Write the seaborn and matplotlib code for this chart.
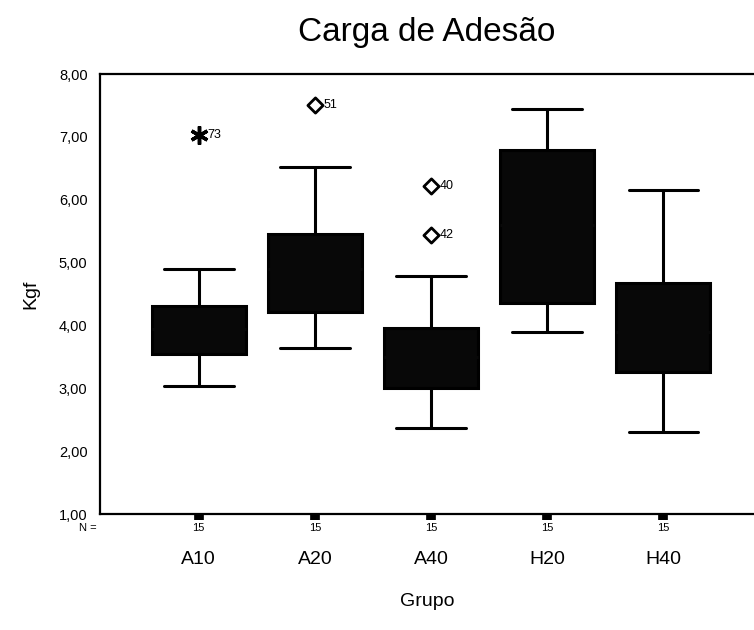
"""Carga de Adesão boxplot (SPSS style)."""
import numpy as np
import pandas as pd
import seaborn as sns
import matplotlib.pyplot as plt
from matplotlib.ticker import FuncFormatter
import matplotlib.transforms as mtransforms

# estimated raw observations, 15 per group (read off the box/whisker positions)
groups = ["A10", "A20", "A40", "H20", "H40"]
a10 = [3.04, 3.25, 3.45, 3.55, 3.55, 3.70, 3.85, 3.95, 4.05, 4.20, 4.31, 4.31, 4.60, 4.90, 7.03]
a20 = [3.64, 3.90, 4.10, 4.21, 4.21, 4.50, 4.75, 4.90, 5.05, 5.25, 5.45, 5.45, 5.90, 6.52, 7.51]
a40 = [2.37, 2.70, 2.90, 3.00, 3.00, 3.20, 3.40, 3.50, 3.65, 3.80, 3.96, 3.96, 4.78, 5.44, 6.22]
h20 = [3.90, 4.10, 4.25, 4.36, 4.36, 4.80, 5.20, 5.60, 5.90, 6.30, 6.79, 6.79, 7.10, 7.30, 7.44]
h40 = [2.30, 2.70, 3.00, 3.26, 3.26, 3.50, 3.75, 3.90, 4.10, 4.40, 4.67, 4.67, 5.20, 5.70, 6.15]

# outliers drawn with SPSS case labels
out_group = ["A10", "A20", "A40", "A40"]
out_value = [7.03, 7.51, 6.22, 5.44]
out_case = ["73", "51", "40", "42"]
out_extreme = [True, False, False, False]

n_counts = [15, 15, 15, 15, 15]
yticks = [1, 2, 3, 4, 5, 6, 7, 8]

df = pd.DataFrame({
    "Grupo": np.repeat(groups, 15),
    "Kgf": a10 + a20 + a40 + h20 + h40,
})

sns.set_style("white")
plt.rcParams["font.family"] = ["Liberation Sans", "DejaVu Sans"]
plt.rcParams["text.color"] = "black"
plt.rcParams["axes.labelcolor"] = "black"
plt.rcParams["xtick.color"] = "black"
plt.rcParams["ytick.color"] = "black"

fig = plt.figure(figsize=(7.54, 6.3), dpi=100)
ax = fig.add_axes([100 / 754, 1 - 514 / 630, 1 - 100 / 754, (514 - 74) / 630])

sns.boxplot(data=df, x="Grupo", y="Kgf", order=groups, ax=ax,
            color="#080808", linecolor="black", linewidth=2.2,
            width=0.81, showfliers=False, saturation=1,
            medianprops={"color": "#080808"},
            capwidths=0.6)

# outliers
xs = [groups.index(g) for g in out_group]
ext_x = [x for x, e in zip(xs, out_extreme) if e]
ext_y = [v for v, e in zip(out_value, out_extreme) if e]
reg_x = [x for x, e in zip(xs, out_extreme) if not e]
reg_y = [v for v, e in zip(out_value, out_extreme) if not e]
sns.scatterplot(x=reg_x, y=reg_y, marker="D", s=60, facecolor="white",
                edgecolor="black", linewidth=2, ax=ax, zorder=5)
ax.plot(ext_x, ext_y, linestyle="none", marker=(6, 2, 0), markersize=13,
        markeredgewidth=2.5, color="black", zorder=5)
for x, v, c in zip(xs, out_value, out_case):
    ax.text(x + 0.07, v, c, fontsize=9, va="center", ha="left")

ax.set_xlim(-0.85, 4.78)
ax.set_ylim(1, 8)
ax.set_yticks(yticks)
ax.yaxis.set_major_formatter(FuncFormatter(lambda v, p: f"{v:.2f}".replace(".", ",")))
ax.tick_params(axis="y", left=False, length=0, pad=9, labelsize=10.5)
ax.tick_params(axis="x", bottom=True, direction="out", length=4, width=7,
               pad=23, labelsize=14, color="black")

for side in ["top", "left", "bottom"]:
    ax.spines[side].set_visible(True)
    ax.spines[side].set_linewidth(1.6)
    ax.spines[side].set_color("black")
ax.spines["right"].set_visible(False)

# N = row
trans = mtransforms.blended_transform_factory(ax.transData, ax.transAxes)
for i, n in enumerate(n_counts):
    ax.text(i, -14 / 440, str(n), transform=trans, fontsize=8,
            ha="center", va="center")
fig.text(88 / 754, 1 - 528 / 630, "N =", fontsize=8, ha="center", va="center")

ax.set_xlabel("Grupo", fontsize=14, labelpad=18)
ax.set_ylabel("Kgf", fontsize=14, labelpad=14)
fig.text(427 / 754, 1 - 32 / 630, "Carga de Adesão", fontsize=24,
         ha="center", va="center")

fig.savefig("out.png", dpi=100)
